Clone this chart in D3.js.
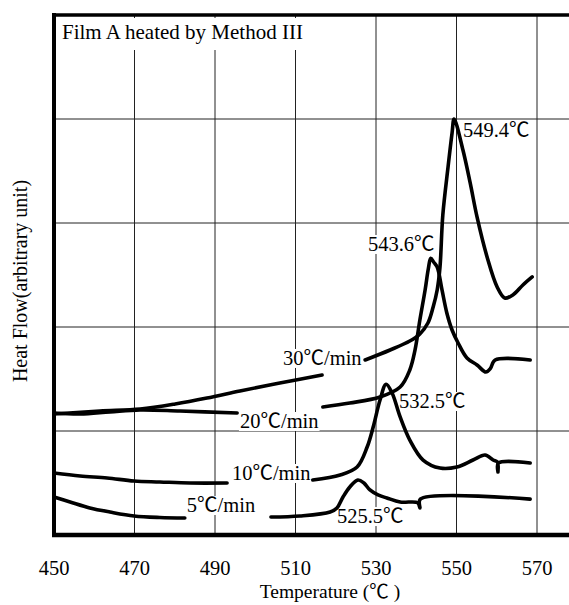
<!DOCTYPE html>
<html>
<head>
<meta charset="utf-8">
<script src="https://cdn.jsdelivr.net/npm/d3@7"></script>
<style>
  body { margin: 0; background: #fff; }
  text { font-family: "Liberation Serif", "Times New Roman", "Noto Sans CJK JP", serif; fill: #000; }
</style>
</head>
<body>
<svg id="chart"></svg>
<script>
const WIDTH = 569;
const HEIGHT = 605;

// x ticks (temperature, deg C) and y grid (arbitrary units)
const xTicks = [450, 470, 490, 510, 530, 550, 570];
const yGrid = [1, 2, 3, 4];

// DSC traces: [temperature, heat flow]; null = gap for a label
const rate30 = [[450, 1.163], [461.4, 1.192], [471.4, 1.212], [480.1, 1.26], [488.0, 1.317], [496.2, 1.385], [506.1, 1.462], [516.6, 1.538],
  null,
  [527.3, 1.683], [533.5, 1.779], [538.4, 1.865], [540.9, 1.933], [542.9, 2.038], [544.2, 2.192], [545.2, 2.356], [545.9, 2.577],
  [546.6, 3.077], [547.9, 3.538], [548.9, 3.865], [549.4, 4.0], [551.6, 3.702], [553.4, 3.385], [555.1, 3.058], [557.6, 2.673],
  [560.1, 2.385], [562.0, 2.279], [564.0, 2.308], [566.5, 2.404], [568.8, 2.481]];

const rate20 = [[450, 1.173], [456.5, 1.163], [463.9, 1.183], [471.4, 1.202], [481.3, 1.192], [495.5, 1.173],
  null,
  [516.8, 1.231], [523.5, 1.269], [531.0, 1.327], [536.0, 1.423], [538.4, 1.587], [539.7, 1.779], [540.9, 2.067], [542.2, 2.356],
  [543.0, 2.56], [543.6, 2.66], [544.4, 2.62], [545.2, 2.577], [546.4, 2.356], [547.6, 2.135], [548.9, 1.971], [550.4, 1.846],
  [552.6, 1.702], [555.1, 1.635], [557.3, 1.567], [558.4, 1.6], [559.6, 1.683], [568.3, 1.683]];

const rate10 = [[450, 0.596], [456.5, 0.567], [463.2, 0.548], [469.9, 0.519], [476.3, 0.51], [483.8, 0.5], [493.0, 0.5],
  null,
  [514.3, 0.529], [521.1, 0.577], [525.3, 0.654], [527.8, 0.846], [529.3, 1.038], [531.0, 1.298], [532.5, 1.45], [534.0, 1.365],
  [536.0, 1.135], [538.4, 0.913], [541.7, 0.721], [545.9, 0.644], [550.1, 0.654], [554.1, 0.721], [557.1, 0.769], [559.1, 0.721],
  [560.2, 0.70], [560.3, 0.606], [560.4, 0.692], [568.3, 0.692]];

const rate5 = [[450, 0.365], [454.0, 0.317], [458.9, 0.26], [463.9, 0.221], [469.9, 0.183], [476.3, 0.168], [482.5, 0.163],
  null,
  [503.9, 0.173], [511.1, 0.183], [518.6, 0.221], [520.3, 0.26], [521.8, 0.365], [523.5, 0.462], [525.5, 0.529], [527.0, 0.5],
  [528.5, 0.433], [530.5, 0.385], [532.7, 0.356], [536.0, 0.317], [540.4, 0.31], [540.9, 0.26], [541.0, 0.345], [568.3, 0.345]];

const series = [rate30, rate20, rate10, rate5];
const rateLabels = ["30℃/min", "20℃/min", "10℃/min", "5℃/min"];
const peakLabels = ["549.4℃", "543.6℃", "532.5℃", "525.5℃"];

// where the texts sit, in data units (left edge, baseline)
const rateLabelAt = [[506.9, 1.635], [496.2, 1.029], [494.2, 0.529], [483.0, 0.221]];
const peakLabelAt = [[551.6, 3.827], [528.0, 2.731], [535.7, 1.221], [520.3, 0.115]];

const svg = d3.select("#chart").attr("width", WIDTH).attr("height", HEIGHT);

const x = d3.scaleLinear().domain([450, 570]).range([54, 537]);
const y = d3.scaleLinear().domain([0, 5]).range([535, 15]);
const RIGHT = 620; // frame runs past the picture edge

/* grid */
const grid = svg.append("g").attr("stroke", "#222").attr("stroke-width", 1);
grid.selectAll("line.v").data(xTicks.slice(1)).enter().append("line")
  .attr("x1", d => x(d)).attr("x2", d => x(d))
  .attr("y1", y(5)).attr("y2", y(0));
grid.selectAll("line.h").data(yGrid).enter().append("line")
  .attr("x1", x(450)).attr("x2", RIGHT)
  .attr("y1", d => y(d)).attr("y2", d => y(d));

/* title with white box */
svg.append("rect").attr("x", 57).attr("y", 18).attr("width", 250).attr("height", 32).attr("fill", "#fff");
svg.append("text").attr("x", 62).attr("y", 39).attr("font-size", 21).text("Film A heated by Method III");

/* labels on the traces */
function addLabel(t, at) {
  const el = svg.append("text").attr("x", x(at[0])).attr("y", y(at[1])).attr("font-size", 20.5).text(t);
  const b = el.node().getBBox();
  svg.insert("rect", () => el.node())
    .attr("x", b.x - 1).attr("y", b.y + 2).attr("width", b.width + 2).attr("height", b.height - 3)
    .attr("fill", "#fff");
}
rateLabels.forEach((t, i) => addLabel(t, rateLabelAt[i]));
peakLabels.forEach((t, i) => addLabel(t, peakLabelAt[i]));

/* traces */
const line = d3.line()
  .defined(d => d)
  .x(d => x(d[0]))
  .y(d => y(d[1]))
  .curve(d3.curveCatmullRom.alpha(0.5));

svg.selectAll("path.trace").data(series).enter().append("path")
  .attr("class", "trace")
  .attr("d", line)
  .attr("fill", "none")
  .attr("stroke", "#000")
  .attr("stroke-width", 3.6)
  .attr("stroke-linejoin", "round")
  .attr("stroke-linecap", "round");

/* frame */
const frame = svg.append("g").attr("stroke", "#000");
frame.append("line").attr("x1", x(450) - 2).attr("x2", RIGHT).attr("y1", y(5)).attr("y2", y(5)).attr("stroke-width", 3.5);
frame.append("line").attr("x1", x(450)).attr("x2", x(450)).attr("y1", y(5) - 2).attr("y2", y(0) + 2).attr("stroke-width", 4);
frame.append("line").attr("x1", x(450) - 2).attr("x2", RIGHT).attr("y1", y(0)).attr("y2", y(0)).attr("stroke-width", 4.5);

/* x tick labels */
svg.selectAll("text.tick").data(xTicks).enter().append("text")
  .attr("class", "tick")
  .attr("x", d => x(d))
  .attr("y", 575)
  .attr("text-anchor", "middle")
  .attr("font-size", 20.5)
  .text(d => d);

/* axis titles */
svg.append("text")
  .attr("x", 330).attr("y", 598)
  .attr("text-anchor", "middle")
  .attr("font-size", 19.5)
  .text("Temperature (℃ )");

svg.append("text")
  .attr("transform", "translate(27,281) rotate(-90)")
  .attr("text-anchor", "middle")
  .attr("font-size", 20)
  .text("Heat Flow(arbitrary unit)");
</script>
</body>
</html>
